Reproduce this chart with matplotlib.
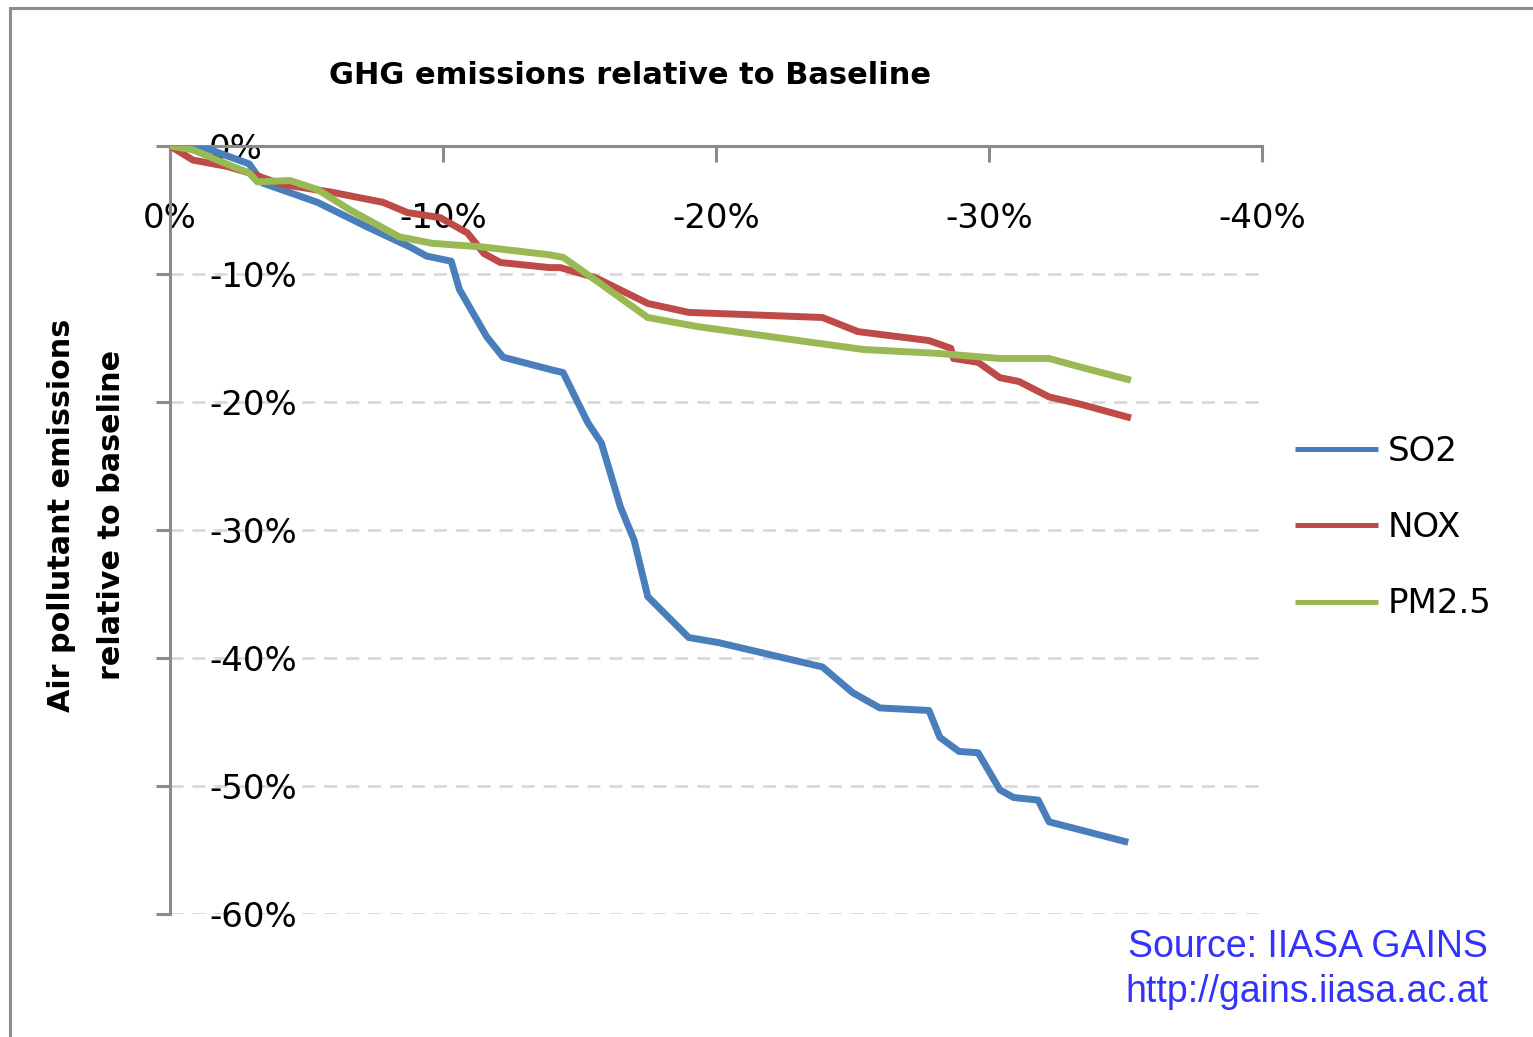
import matplotlib
matplotlib.use("Agg")
import matplotlib.pyplot as plt
from matplotlib.patches import Rectangle

# ---- data (percent) ----
so2_x = [0, -1.1, -2.9, -3.4, -5.4, -7.2, -8.8, -9.4, -10.3, -10.6, -11.6, -12.2, -14.0, -14.4,
         -15.3, -15.8, -16.5, -17.0, -17.5, -19.0, -20.1, -23.9, -25.0, -26.0, -27.8, -28.2,
         -28.9, -29.6, -30.4, -30.9, -31.8, -32.2, -35.1]
so2_y = [0, 0, -1.4, -2.9, -4.4, -6.3, -7.9, -8.6, -9.0, -11.2, -14.9, -16.5, -17.5, -17.7,
         -21.6, -23.2, -28.2, -30.8, -35.2, -38.4, -38.8, -40.7, -42.7, -43.9, -44.1, -46.2,
         -47.3, -47.4, -50.3, -50.9, -51.1, -52.8, -54.4]

nox_x = [0, -0.84, -2.1, -2.9, -4.1, -5.9, -7.8, -8.7, -9.9, -10.9, -11.5, -12.1, -13.9, -14.3,
         -15.6, -17.5, -19.0, -23.9, -25.2, -27.8, -28.6, -28.7, -29.6, -30.4, -31.1, -32.2,
         -33.4, -35.2]
nox_y = [0, -1.1, -1.6, -2.1, -3.0, -3.6, -4.4, -5.2, -5.6, -6.8, -8.4, -9.1, -9.5, -9.5,
         -10.3, -12.3, -13.0, -13.4, -14.5, -15.2, -15.8, -16.6, -16.9, -18.1, -18.4, -19.6,
         -20.2, -21.25]

pm_x = [0, -0.84, -2.3, -2.9, -3.2, -4.4, -5.4, -6.6, -8.4, -9.6, -11.5, -13.9, -14.4, -15.6,
        -17.5, -19.3, -25.4, -28.1, -30.4, -32.2, -33.4, -35.2]
pm_y = [0, -0.3, -1.6, -2.1, -2.8, -2.7, -3.4, -5.0, -7.1, -7.6, -7.9, -8.5, -8.7, -10.5,
        -13.4, -14.1, -15.9, -16.2, -16.6, -16.6, -17.3, -18.3]

series_names = ["SO2", "NOX", "PM2.5"]
series_colors = ["#4A7EBB", "#BE4B48", "#98B954"]

x_ticks = [0, -10, -20, -30, -40]
x_labels = ["0%", "-10%", "-20%", "-30%", "-40%"]
y_ticks = [0, -10, -20, -30, -40, -50, -60]
y_labels = ["0%", "-10%", "-20%", "-30%", "-40%", "-50%", "-60%"]

title = "GHG emissions relative to Baseline"
ylabel_lines = ["Air pollutant emissions", "relative to baseline"]
source_lines = ["Source: IIASA GAINS", "http://gains.iiasa.ac.at"]

# ---- figure ----
W, H = 1533, 1037
fig = plt.figure(figsize=(W / 100, H / 100), dpi=100)
ax = fig.add_axes([170 / W, 1 - 914 / H, (1262 - 170) / W, (914 - 146) / H])

for xs, ys, name, col in zip([so2_x, nox_x, pm_x], [so2_y, nox_y, pm_y], series_names, series_colors):
    ax.plot(xs, ys, color=col, lw=5.0, solid_joinstyle="round", solid_capstyle="butt",
            label=name, zorder=3)

ax.set_xlim(0, -40)
ax.set_ylim(-60, 0)

spine_col = "#8A8A8A"
for s in ["right", "bottom"]:
    ax.spines[s].set_visible(False)
for s in ["top", "left"]:
    ax.spines[s].set_color(spine_col)
    ax.spines[s].set_linewidth(2.2)

ax.xaxis.tick_top()
ax.set_xticks(x_ticks)
ax.set_xticklabels(x_labels)
ax.tick_params(axis="x", which="major", direction="in", length=11.5, width=2.2, color=spine_col,
               labelsize=24.5, pad=-64, top=True, bottom=False)
for lab in ax.get_xticklabels():
    lab.set_verticalalignment("bottom")

ax.set_yticks(y_ticks)
ax.set_yticklabels(y_labels)
ax.tick_params(axis="y", which="major", direction="out", length=10, width=2.2, color=spine_col,
               labelsize=24.5, pad=-38)
for lab in ax.get_yticklabels():
    lab.set_horizontalalignment("left")

ax.grid(axis="y", color="#D9D9D9", lw=2, linestyle=(0, (4.7, 3.2)), zorder=1)
ax.grid(axis="x", visible=False)
ax.set_axisbelow(True)

# title & y label
fig.text(630 / W, 1 - 75 / H, title, ha="center", va="center", fontsize=22, fontweight="bold")
fig.text(62 / W, 1 - 515 / H, ylabel_lines[0], ha="center", va="center", rotation=90,
         fontsize=21.8, fontweight="bold")
fig.text(112 / W, 1 - 515 / H, ylabel_lines[1], ha="center", va="center", rotation=90,
         fontsize=21.8, fontweight="bold")

# legend
leg = ax.legend(loc="upper left", bbox_to_anchor=(1295 / W, 1 - 435 / H),
                bbox_transform=fig.transFigure, frameon=False, fontsize=24.5,
                handlelength=2.44, handletextpad=0.28, labelspacing=1.27, borderpad=0,
                borderaxespad=0)
for h in leg.get_lines():
    h.set_linewidth(3.6)

# source
fig.text(1488 / W, 1 - 947 / H, source_lines[0], ha="right", va="center", fontsize=27,
         color="#3333FF", family="Liberation Sans")
fig.text(1488 / W, 1 - 992 / H, source_lines[1], ha="right", va="center", fontsize=27,
         color="#3333FF", family="Liberation Sans")

# outer frame
fig.patches.append(Rectangle((10 / W, -0.1), 1.2, 1 - 8 / H + 0.1, transform=fig.transFigure,
                             fill=False, edgecolor="#8C8C8C", lw=2.2, zorder=0))

fig.savefig("out.png", dpi=100)
